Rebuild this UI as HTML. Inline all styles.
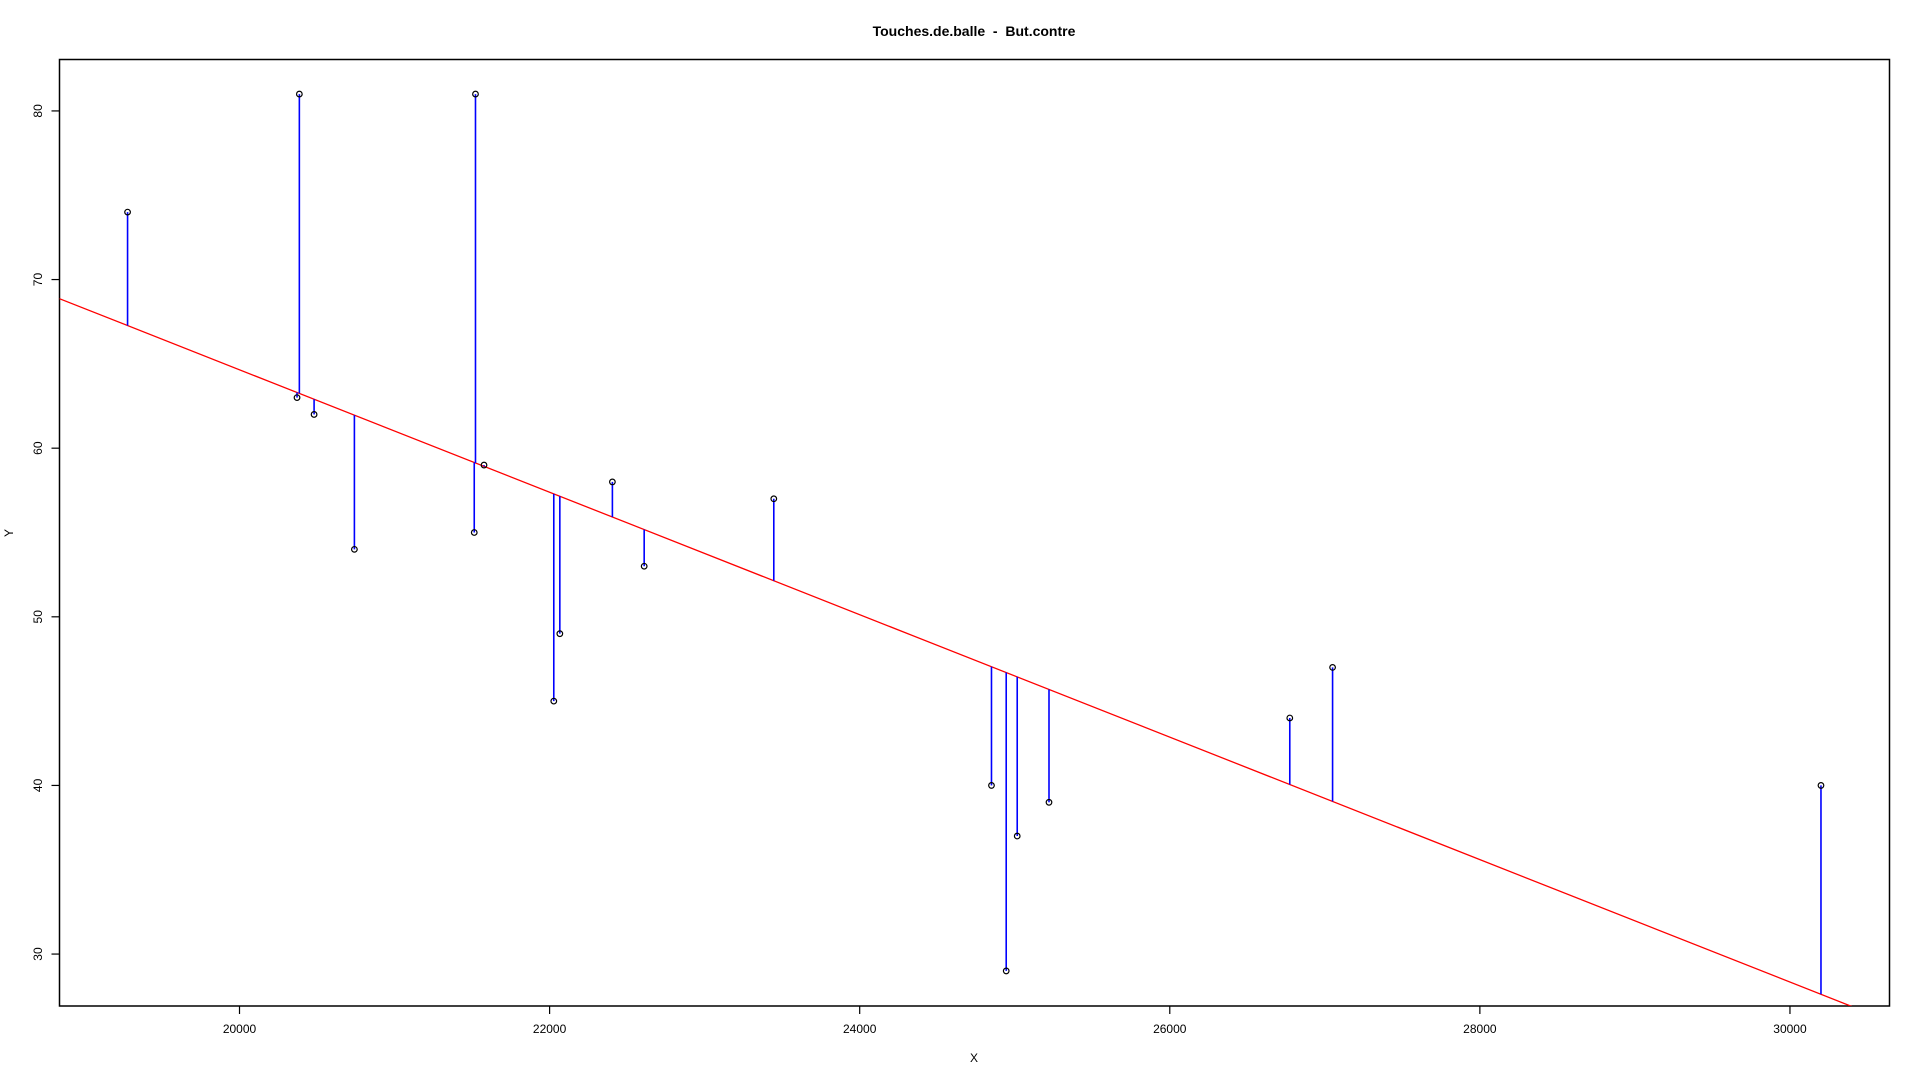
<!DOCTYPE html>
<html><head><meta charset="utf-8">
<style>
html,body{margin:0;padding:0;background:#fff;}
svg{display:block;font-family:"Liberation Sans",Arial,sans-serif;}
</style></head>
<body>
<svg id="chart" width="1920" height="1080" viewBox="0 0 1920 1080">
<text x="974" y="36" text-anchor="middle" font-size="14" font-weight="bold" xml:space="preserve" style="white-space:pre">Touches.de.balle  -  But.contre</text>
<rect x="59.5" y="59.5" width="1830" height="946.5" fill="none" stroke="#000" stroke-width="1.5"/>
<g id="xaxis"></g>
<g id="yaxis"></g>
<text x="974" y="1062" text-anchor="middle" font-size="12">X</text>
<text x="0" y="0" transform="translate(13,533) rotate(-90)" text-anchor="middle" font-size="12">Y</text>
<g id="marks"></g>
</svg>
<script>
const xValues = [19278, 20386, 20371, 20481, 20741, 21522, 21514, 21577, 22027, 22066, 22405, 22610, 23446, 24850, 24945, 25016, 25221, 26774, 27050, 30200];
const yValues = [74, 81, 63, 62, 54, 81, 55, 59, 45, 49, 58, 53, 57, 40, 29, 37, 39, 44, 47, 40];
const fitIntercept = 137.27;
const fitSlope = -0.003631;
const xTicks = [20000, 22000, 24000, 26000, 28000, 30000];
const yTicks = [30, 40, 50, 60, 70, 80];

const L = 59.5, R = 1889.5, T = 59.5, B = 1006;
const xMin = 18839, xMax = 30642, yMin = 26.92, yMax = 83.05;
function sx(v){ return L + (v - xMin) / (xMax - xMin) * (R - L); }
function sy(v){ return B - (v - yMin) / (yMax - yMin) * (B - T); }
const NS = "http://www.w3.org/2000/svg";
function mk(tag, attrs, parent){ const e = document.createElementNS(NS, tag); for (const k in attrs) e.setAttribute(k, attrs[k]); parent.appendChild(e); return e; }

const xa = document.getElementById('xaxis');
xTicks.forEach(t => {
  const ln = mk('line', {x1: sx(t), x2: sx(t), y1: B, y2: B + 8, stroke: '#000', 'stroke-width': 1.2}, xa);
  
  
  const tx = mk('text', {x: sx(t), y: 1033, 'text-anchor': 'middle', 'font-size': 12}, xa);
  tx.textContent = t;
  
  
});
const ya = document.getElementById('yaxis');
yTicks.forEach(t => {
  const ln = mk('line', {x1: L - 8, x2: L, y1: sy(t), y2: sy(t), stroke: '#000', 'stroke-width': 1.2}, ya);
  
  
  const tx = mk('text', {x: 0, y: 0, transform: 'translate(42,' + sy(t) + ') rotate(-90)', 'text-anchor': 'middle', 'font-size': 12}, ya);
  tx.textContent = t;
  
  
});

const m = document.getElementById('marks');
const clip = mk('clipPath', {id: 'pc'}, m);
mk('rect', {x: L, y: T, width: R - L, height: B - T}, clip);
const fit = mk('line', {x1: sx(xMin), y1: sy(fitIntercept + fitSlope * xMin), x2: sx(xMax), y2: sy(fitIntercept + fitSlope * xMax), stroke: '#ff0000', 'stroke-width': 1.3, 'clip-path': 'url(#pc)'}, m);


xValues.forEach((xv, i) => {
  const yv = yValues[i];
  const yh = fitIntercept + fitSlope * xv;
  const r = mk('line', {x1: sx(xv), x2: sx(xv), y1: sy(yv), y2: sy(yh), stroke: '#0000ff', 'stroke-width': 1.6}, m);
  
  
});
xValues.forEach((xv, i) => {
  const c = mk('circle', {cx: sx(xv), cy: sy(yValues[i]), r: 2.8, fill: 'none', stroke: '#000', 'stroke-width': 1.2}, m);
  
  
});
</script>
</body></html>
